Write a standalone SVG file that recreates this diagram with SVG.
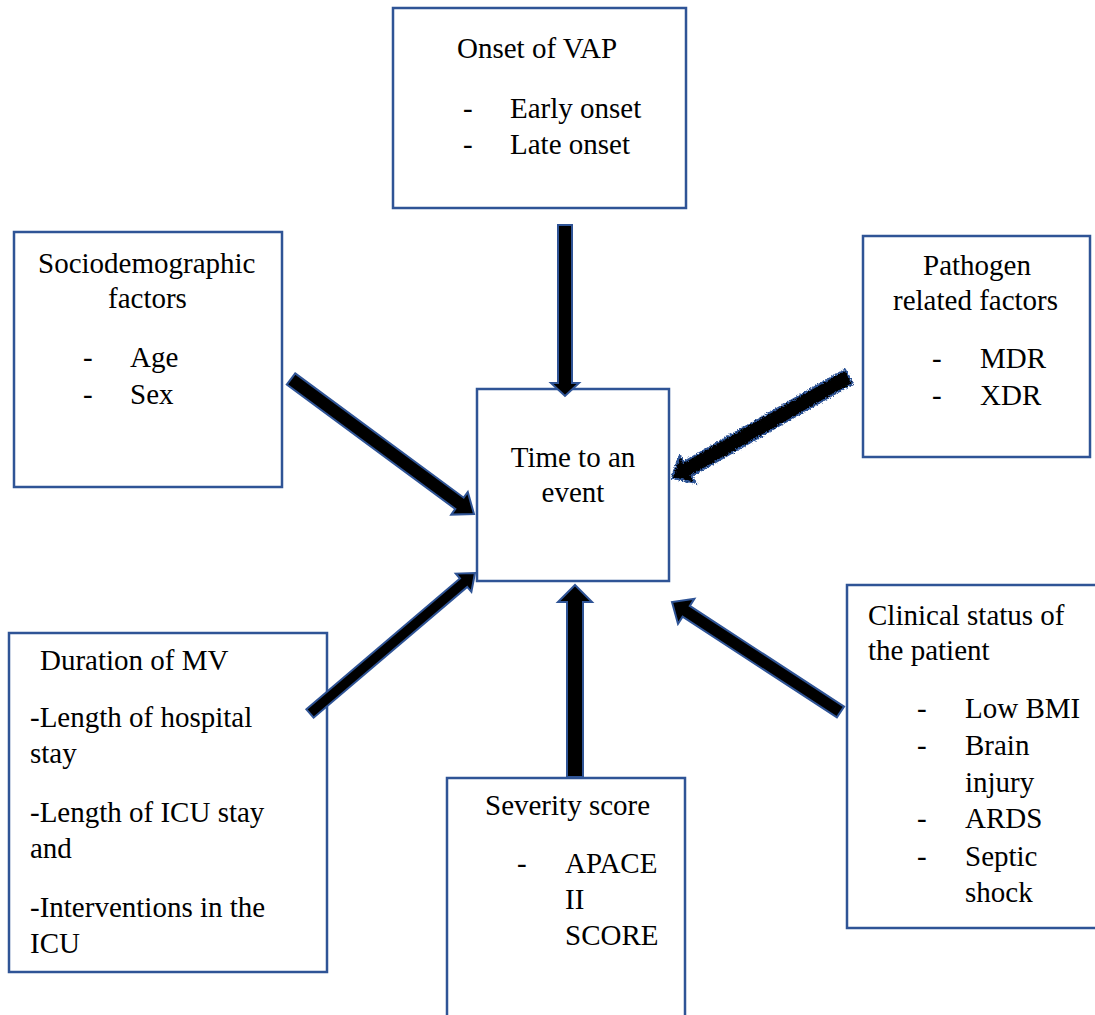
<svg xmlns="http://www.w3.org/2000/svg" width="1095" height="1015" viewBox="0 0 1095 1015">
<style>
.box{fill:#ffffff;stroke:#2F5496;stroke-width:2.5}
.arr{fill:#000000;stroke:#2F5496;stroke-width:2;stroke-linejoin:miter}
text{font-family:"Liberation Serif","Times New Roman",serif;font-size:29px;fill:#000000}
</style>
<defs>
<filter id="rough" x="-10%" y="-10%" width="120%" height="120%">
<feTurbulence type="fractalNoise" baseFrequency="0.6" numOctaves="2" seed="3" result="n"/>
<feDisplacementMap in="SourceGraphic" in2="n" scale="4" xChannelSelector="R" yChannelSelector="G"/>
</filter>
</defs>
<rect width="1095" height="1015" fill="#ffffff"/>

<g id="onset">
<rect class="box" x="393" y="8" width="293" height="200"/>
<text x="457" y="58">Onset of VAP</text>
<text x="463" y="118">-</text><text x="510" y="118">Early onset</text>
<text x="463" y="154">-</text><text x="510" y="154">Late onset</text>
</g>

<g id="socio">
<rect class="box" x="14" y="232" width="268" height="255"/>
<text x="38" y="273">Sociodemographic</text>
<text x="108" y="308">factors</text>
<text x="83" y="367">-</text><text x="130" y="367">Age</text>
<text x="83" y="404">-</text><text x="130" y="404">Sex</text>
</g>

<g id="pathogen">
<rect class="box" x="863" y="236" width="227" height="221"/>
<text x="923" y="275">Pathogen</text>
<text x="893" y="310">related factors</text>
<text x="932" y="368">-</text><text x="980" y="368">MDR</text>
<text x="932" y="405">-</text><text x="980" y="405">XDR</text>
</g>

<g id="center">
<rect class="box" x="477" y="389" width="192" height="192"/>
<text x="573" y="467" text-anchor="middle">Time to an</text>
<text x="573" y="502" text-anchor="middle">event</text>
</g>

<g id="duration">
<rect class="box" x="9" y="633" width="318" height="339"/>
<text x="40" y="670">Duration of MV</text>
<text x="30" y="727">-Length of hospital</text>
<text x="30" y="763">stay</text>
<text x="30" y="822">-Length of ICU stay</text>
<text x="30" y="858">and</text>
<text x="30" y="917">-Interventions in the</text>
<text x="30" y="953">ICU</text>
</g>

<g id="severity">
<rect class="box" x="447" y="778" width="238" height="260"/>
<text x="485" y="815">Severity score</text>
<text x="517" y="873">-</text><text x="565" y="873">APACE</text>
<text x="565" y="909">II</text>
<text x="565" y="945">SCORE</text>
</g>

<g id="clinical">
<rect class="box" x="847" y="585" width="260" height="343"/>
<text x="868" y="625">Clinical status of</text>
<text x="868" y="660">the patient</text>
<text x="917" y="718">-</text><text x="965" y="718">Low BMI</text>
<text x="917" y="755">-</text><text x="965" y="755">Brain</text>
<text x="965" y="792">injury</text>
<text x="917" y="828">-</text><text x="965" y="828">ARDS</text>
<text x="917" y="866">-</text><text x="965" y="866">Septic</text>
<text x="965" y="902">shock</text>
</g>

<g id="connectors">
<polygon class="arr" points="558,225 572,225 572,383 579,383 565,396 551,383 558,383"/>
<polygon class="arr" points="575,585 592,602 583,602 583,777 567,777 567,602 558,602"/>
<polygon class="arr" points="295.2,373.4 463.7,497.7 467.8,492.0 474,514 451.2,514.6 455.3,508.9 286.8,384.6"/>
<polygon class="arr" points="306.4,709.3 460.0,578.5 455.8,573.6 475,573 471.4,591.8 467.2,586.9 313.6,717.7"/>
<polygon class="arr" filter="url(#rough)" points="845.0,369.6 683.6,462.1 679.6,455.1 672,478 695.6,482.9 691.6,475.9 853.0,383.4"/>
<polygon class="arr" points="844.1,706.6 689.8,605.9 694.4,598.7 672,602 678.0,623.9 682.6,616.7 836.9,717.4"/>
</g>
</svg>
